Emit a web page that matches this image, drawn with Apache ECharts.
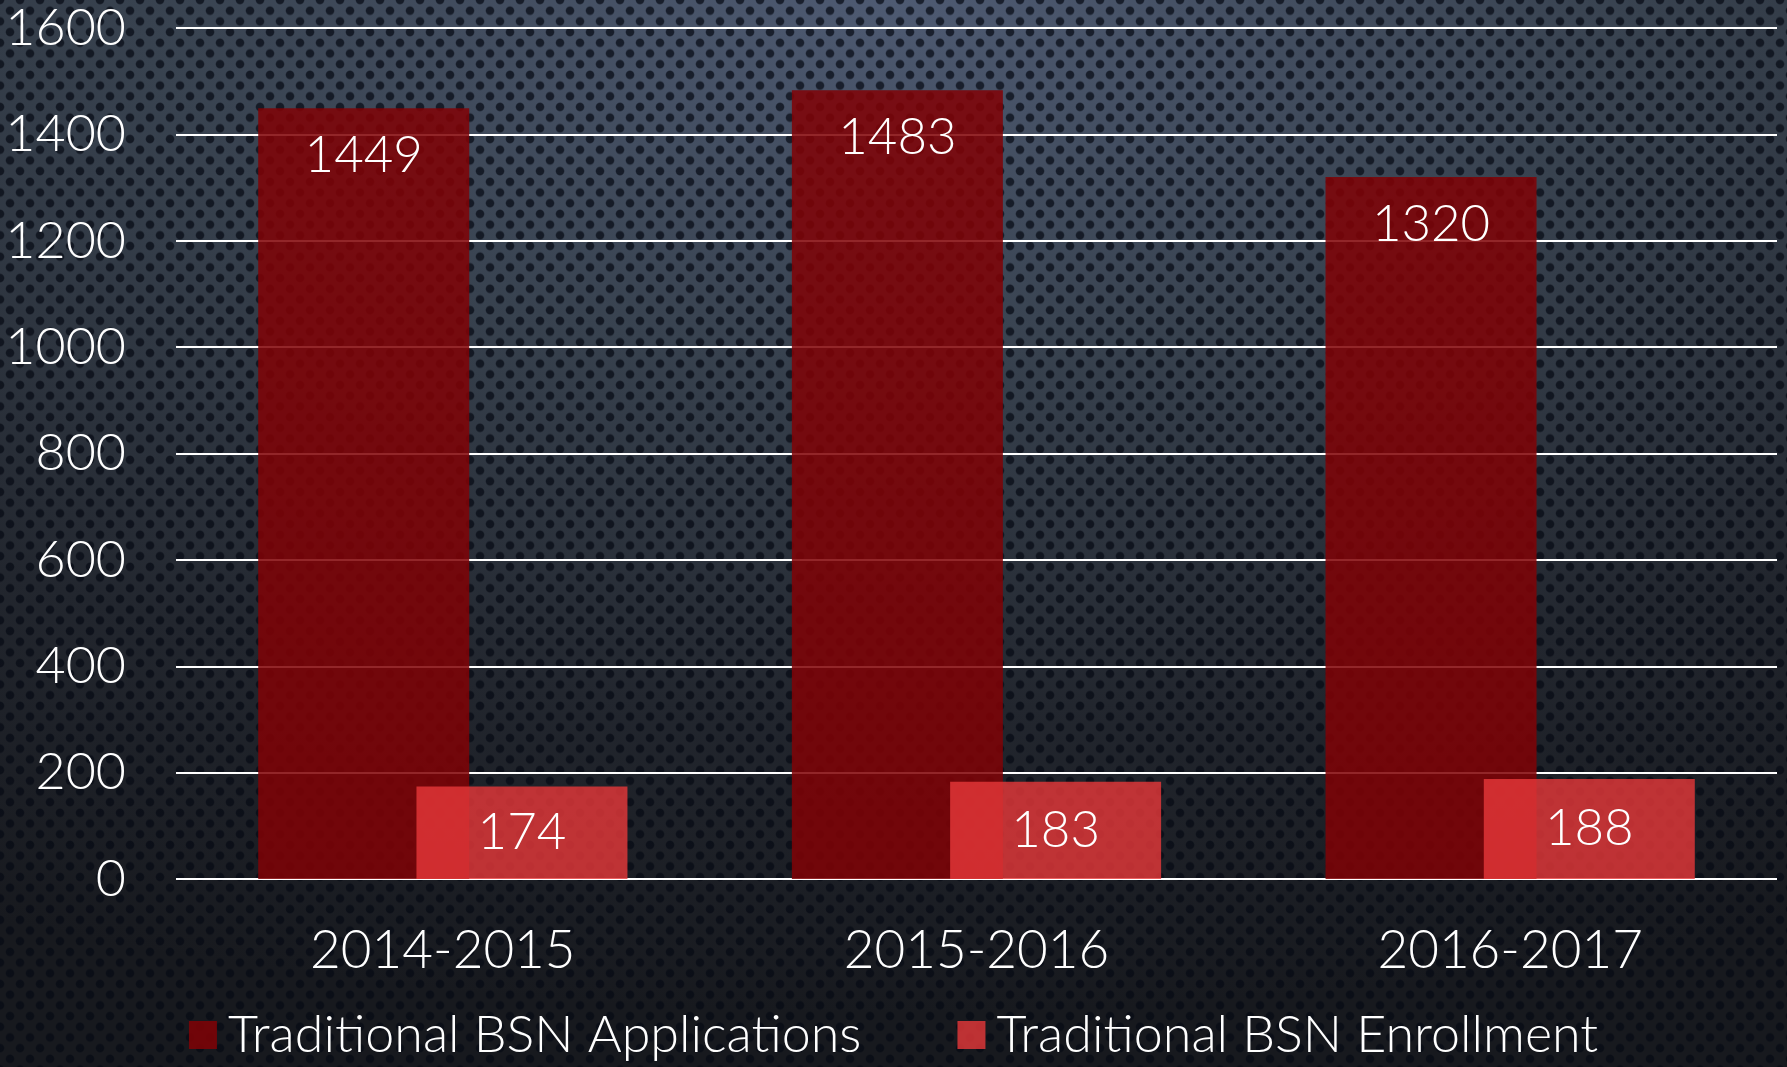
<!DOCTYPE html>
<html>
<head>
<meta charset="utf-8">
<script src="https://cdn.jsdelivr.net/npm/echarts@6/dist/echarts.min.js"></script>
<style>
  html, body { margin: 0; padding: 0; width: 1787px; height: 1067px; overflow: hidden; }
  body {
    background-color: #23272f;
    background-image:
      radial-gradient(circle, rgba(6,10,20,0.72) 3.6px, rgba(6,10,20,0) 4.8px),
      radial-gradient(circle, rgba(6,10,20,0.72) 3.6px, rgba(6,10,20,0) 4.8px),
      radial-gradient(ellipse 120% 95% at 50% 0%, #4e5a72 0%, #38424f 35%, #22262e 70%, #17191e 100%);
    background-size: 20px 21.4px, 20px 21.4px, 100% 100%;
    background-position: 0 0, 10px 10.7px, 0 0;
  }
  #chart { width: 1787px; height: 1067px; }
</style>
</head>
<body>
<div id="chart"></div>
<script>
const categories = ['2014-2015', '2015-2016', '2016-2017'];
const applications = [1449, 1483, 1320];
const enrollment = [174, 183, 188];
const seriesNames = ['Traditional BSN Applications', 'Traditional BSN Enrollment'];
const yMin = 0, yMax = 1600, yInterval = 200;

const FONT = 'Lato, "Open Sans", sans-serif';
const FW = 300;
const chart = echarts.init(document.getElementById('chart'), null, { renderer: 'canvas' });
chart.setOption({
  backgroundColor: 'transparent',
  animation: false,
  textStyle: { fontFamily: FONT, fontWeight: FW },
  grid: { left: 176, right: 10, top: 28, bottom: 188, containLabel: false },
  legend: {
    bottom: 1,
    left: 'center',
    itemWidth: 28,
    itemHeight: 28,
    itemGap: 96,
    icon: 'rect',
    textStyle: { color: '#ffffff', fontSize: 52, fontWeight: FW, fontFamily: FONT, padding: [0, 0, 0, 6] },
    data: seriesNames
  },
  xAxis: {
    type: 'category',
    data: categories,
    axisLine: { show: false },
    axisTick: { show: false },
    axisLabel: { color: '#ffffff', fontSize: 53, fontWeight: FW, margin: 45, fontFamily: FONT }
  },
  yAxis: {
    type: 'value',
    min: yMin,
    max: yMax,
    interval: yInterval,
    axisLine: { show: false },
    axisTick: { show: false },
    axisLabel: { color: '#ffffff', fontSize: 52, fontWeight: FW, margin: 50, fontFamily: FONT,
      formatter: function (v) { return String(v); } },
    splitLine: { lineStyle: { color: '#ffffff', width: 2 } }
  },
  series: [
    {
      name: seriesNames[0],
      type: 'bar',
      data: applications,
      barWidth: 211,
      barGap: '-25%',
      itemStyle: { color: 'rgba(128,2,6,0.86)' },
      label: {
        show: true,
        position: 'insideTop',
        distance: 22,
        color: '#ffffff',
        fontSize: 51,
        fontWeight: FW,
        fontFamily: FONT
      }
    },
    {
      name: seriesNames[1],
      type: 'bar',
      data: enrollment,
      barWidth: 211,
      itemStyle: { color: 'rgba(232,56,58,0.8)' },
      label: {
        show: true,
        position: 'inside',
        color: '#ffffff',
        fontSize: 51,
        fontWeight: FW,
        fontFamily: FONT
      }
    }
  ]
});
</script>
</body>
</html>
